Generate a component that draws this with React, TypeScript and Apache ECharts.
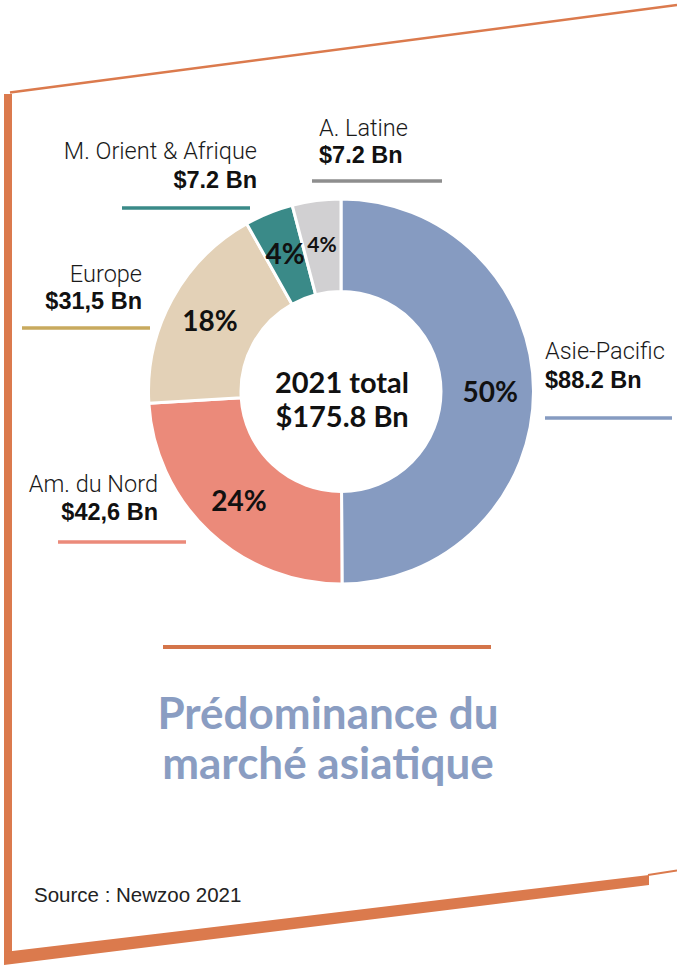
import React, { useEffect, useRef } from "react";
import * as echarts from "echarts";

const regions = ["Asie-Pacific", "Am. du Nord", "Europe", "M. Orient & Afrique", "A. Latine"];
const revenues = [88.2, 42.6, 31.5, 7.2, 7.2];
const valueLabels = ["$88.2 Bn", "$42,6 Bn", "$31,5 Bn", "$7.2 Bn", "$7.2 Bn"];
const sliceColors = ["#869BC1", "#EB8A7A", "#E3D1B7", "#3A8A88", "#D1D0D2"];
const lineColors = ["#869BC1", "#EB8A7A", "#C8AA5E", "#3A8A88", "#8E8E8E"];
const totalLines = ["2021 total", "$175.8 Bn"];
const titleLines = ["Prédominance du", "marché asiatique"];
const sourceText = "Source : Newzoo 2021";

// label layout: [anchorX, align, nameY, valueY, lineX1, lineX2, lineY]
const labelLayout: [number, string, number, number, number, number, number][] = [
  [545, "left", 351, 380, 545, 672, 418],
  [158, "right", 484, 512, 58, 186, 542],
  [142, "right", 274, 301, 22, 150, 328],
  [257, "right", 151, 180, 122, 250, 208],
  [319, "left", 128, 155, 312, 442, 181],
];

const ORANGE = "#DB7A4D";

export default function App() {
  const ref = useRef<HTMLDivElement>(null);
  useEffect(() => {
    if (!ref.current) return;
    const chart = echarts.init(ref.current, null, { renderer: "svg" });
    const graphics: any[] = [];
    // frame
    graphics.push({ type: "rect", shape: { x: 4, y: 94, width: 8, height: 870 }, style: { fill: ORANGE } });
    graphics.push({ type: "line", shape: { x1: 10, y1: 92.5, x2: 677, y2: 5 }, style: { stroke: ORANGE, lineWidth: 2.5 } });
    graphics.push({ type: "polygon", shape: { points: [[4, 952], [649, 875], [649, 885], [4, 965]] }, style: { fill: ORANGE } });
    graphics.push({ type: "line", shape: { x1: 648, y1: 875, x2: 677, y2: 870.5 }, style: { stroke: ORANGE, lineWidth: 2 } });
    graphics.push({ type: "line", shape: { x1: 163, y1: 647, x2: 491, y2: 647 }, style: { stroke: "#D4754A", lineWidth: 4 } });
    // outer labels
    regions.forEach((r, i) => {
      const [ax, align, ny, vy, lx1, lx2, ly] = labelLayout[i];
      graphics.push({
        type: "text", x: ax, y: ny,
        style: { text: r, fontFamily: "Roboto", fontWeight: 300, fontSize: 23.5, fill: "#1a1a1a", textAlign: align, textVerticalAlign: "middle" },
      });
      graphics.push({
        type: "text", x: ax, y: vy,
        style: { text: valueLabels[i], fontFamily: "Liberation Sans", fontWeight: "bold", fontSize: 23.5, fill: "#111", textAlign: align, textVerticalAlign: "middle" },
      });
      graphics.push({ type: "line", shape: { x1: lx1, y1: ly, x2: lx2, y2: ly }, style: { stroke: lineColors[i], lineWidth: 3.5 } });
    });
    // center text
    totalLines.forEach((t, i) => {
      graphics.push({
        type: "text", x: 342, y: 381 + i * 34,
        style: { text: t, fontFamily: "Lato", fontWeight: "bold", fontSize: 29, fill: "#111", textAlign: "center", textVerticalAlign: "middle" },
      });
    });
    graphics.push({
      type: "text", x: 328, y: 737,
      style: { text: titleLines.join("\n"), fontFamily: "Lato", fontWeight: "bold", fontSize: 44, lineHeight: 50, fill: "#8A9DC2", textAlign: "center", textVerticalAlign: "middle" },
    });
    graphics.push({
      type: "text", x: 34, y: 894,
      style: { text: sourceText, fontFamily: "Liberation Sans", fontSize: 20.5, fill: "#222", textAlign: "left", textVerticalAlign: "middle" },
    });

    chart.setOption({
      animation: false,
      backgroundColor: "#fff",
      series: [
        {
          type: "pie",
          center: [341, 391.5],
          radius: [100, 192.5],
          startAngle: 90,
          clockwise: true,
          avoidLabelOverlap: false,
          itemStyle: { borderColor: "#fff", borderWidth: 3 },
          label: {
            show: true,
            position: "inside",
            fontFamily: "Lato",
            fontWeight: "bold",
            fontSize: 28,
            color: "#111",
            formatter: (p: any) => Math.round(p.percent) + "%",
          },
          labelLine: { show: false },
          emphasis: { disabled: true },
          data: regions.map((r, i) => ({
            name: r,
            value: revenues[i],
            itemStyle: { color: sliceColors[i] },
            label: i === 4 ? { fontSize: 21 } : undefined,
          })),
        },
      ],
      graphic: graphics,
    });
    return () => chart.dispose();
  }, []);
  return <div ref={ref} style={{ position: "fixed", left: 0, top: 0, width: 677, height: 967 }} />;
}
